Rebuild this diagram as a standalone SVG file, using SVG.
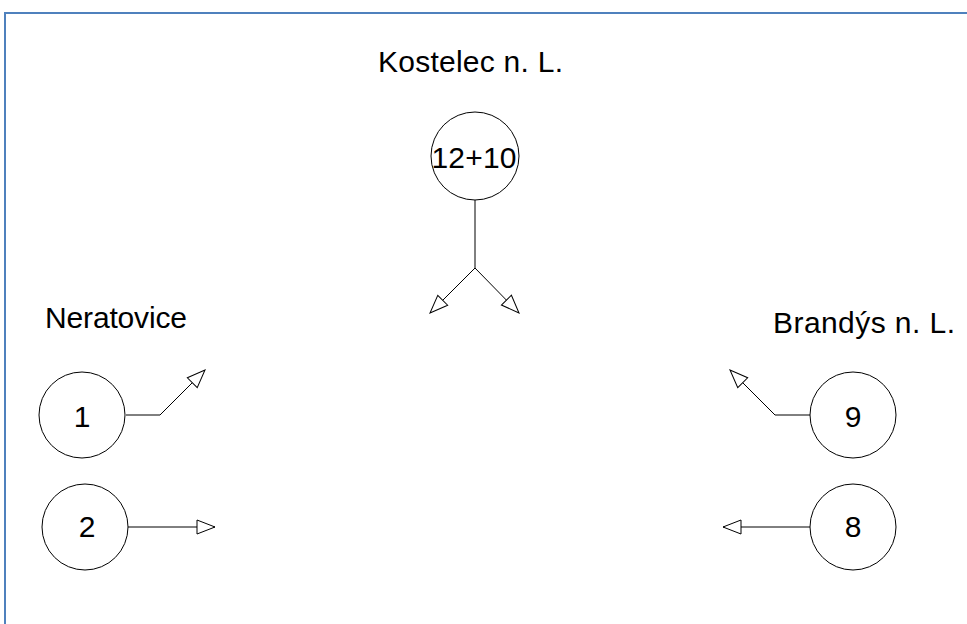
<svg xmlns="http://www.w3.org/2000/svg" width="967" height="624" viewBox="0 0 967 624">
  <style>
    .node circle { fill: #ffffff; stroke: #000000; stroke-width: 1; }
    .node text, .label { font-family: "Liberation Sans", Arial, sans-serif; font-size: 30px; fill: #000000; }
    .node text { text-anchor: middle; }
    .conn path { fill: none; stroke: #000000; stroke-width: 1; marker-end: url(#openArrow); }
  </style>
  <defs>
    <marker id="openArrow" markerUnits="userSpaceOnUse" markerWidth="22" markerHeight="18" refX="19" refY="8" orient="auto">
      <path d="M1,1 L19,8 L1,15 Z" fill="#ffffff" stroke="#000000" stroke-width="1"/>
    </marker>
  </defs>
  <rect width="967" height="624" fill="#ffffff"/>
  <!-- frame -->
  <path d="M5,624 V13 H967" fill="none" stroke="#4f81bd" stroke-width="2"/>

  <!-- place labels -->
  <text class="label" x="378" y="72" textLength="185">Kostelec n. L.</text>
  <text class="label" x="45" y="328" textLength="142">Neratovice</text>
  <text class="label" x="773" y="333" textLength="182">Brandýs n. L.</text>

  <!-- connectors -->
  <g id="connectors" class="conn">
    <path d="M475,200 V268" style="marker-end:none"/>
    <path d="M475,268 L430,313"/>
    <path d="M475,268 L519,313"/>
    <path d="M126,415 H160 L205,370"/>
    <path d="M128,527 H215"/>
    <path d="M810,415 H775 L730,370"/>
    <path d="M810,527 H723"/>
  </g>

  <!-- nodes -->
  <g id="node-kostelec" class="node">
    <circle cx="475" cy="156" r="44"/>
    <text x="474" y="168" textLength="85">12+10</text>
  </g>
  <g id="node-1" class="node">
    <circle cx="82" cy="415" r="43"/>
    <text x="82" y="427">1</text>
  </g>
  <g id="node-2" class="node">
    <circle cx="85" cy="527" r="43"/>
    <text x="87" y="537">2</text>
  </g>
  <g id="node-9" class="node">
    <circle cx="853" cy="415" r="43"/>
    <text x="853" y="427">9</text>
  </g>
  <g id="node-8" class="node">
    <circle cx="853" cy="527" r="43"/>
    <text x="853" y="537">8</text>
  </g>
</svg>
